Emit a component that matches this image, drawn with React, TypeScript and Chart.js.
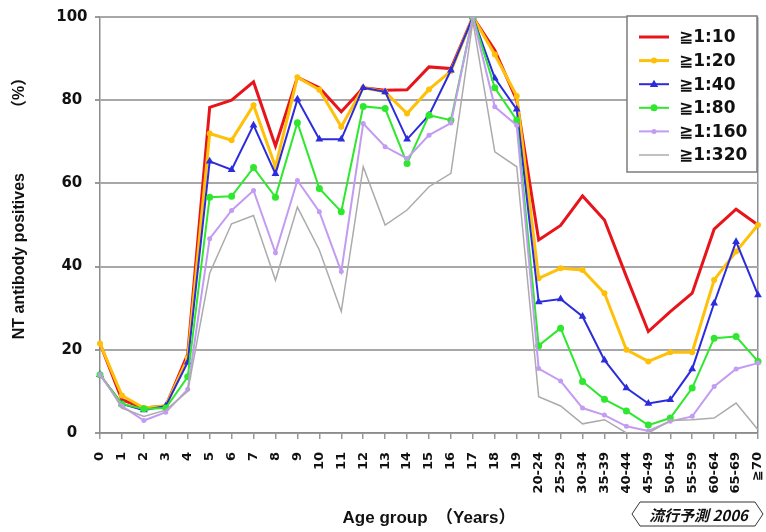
import React, { useEffect, useRef } from 'react';
import { Chart, registerables } from 'chart.js';

Chart.register(...registerables);

const ageGroups = [
  '0', '1', '2', '3', '4', '5', '6', '7', '8', '9', '10', '11', '12', '13', '14', '15', '16', '17', '18', '19',
  '20-24', '25-29', '30-34', '35-39', '40-44', '45-49', '50-54', '55-59', '60-64', '65-69', '≧70',
];

const seriesLabels = ['≧1:10', '≧1:20', '≧1:40', '≧1:80', '≧1:160', '≧1:320'];

const titer10 = [21.5, 8, 6, 6.5, 19, 78.3, 80, 84.4, 69, 85.5, 83, 77.2, 83, 82.4, 82.5, 88, 87.6, 100, 92, 80, 46.4, 49.9, 57, 51.2, 37.6, 24.4, 29.2, 33.6, 49, 53.8, 50];
const titer20 = [21.5, 9, 6, 6.5, 18, 72, 70.4, 78.8, 64, 85.5, 82.5, 73.6, 83, 82, 76.8, 82.6, 87, 100, 91, 81, 37.2, 39.6, 39.2, 33.6, 20, 17.2, 19.4, 19.4, 36.8, 43.6, 50];
const titer40 = [14, 7, 5.5, 6.5, 17, 65.3, 63.3, 74, 62.3, 80.2, 70.6, 70.6, 83, 82, 70.6, 76.4, 87.2, 100, 85.3, 77.8, 31.5, 32.2, 28, 17.5, 10.8, 7.1, 8, 15.4, 31.2, 46, 33.2];
const titer80 = [14, 7, 5.8, 6, 13.5, 56.7, 56.9, 63.8, 56.7, 74.6, 58.8, 53.2, 78.5, 78, 64.8, 76.4, 75.2, 100, 83, 75.2, 21, 25.2, 12.4, 8.1, 5.3, 1.9, 3.6, 10.8, 22.8, 23.2, 17.2];
const titer160 = [14, 6.5, 3, 5, 10.5, 46.7, 53.5, 58.3, 43.3, 60.7, 53.2, 38.8, 74.4, 68.8, 66, 71.6, 74.5, 100, 78.4, 74, 15.5, 12.5, 6, 4.3, 1.6, 0.5, 2.8, 4, 11.2, 15.4, 16.8];
const titer320 = [14.5, 6, 4, 5.5, 10, 38.4, 50.3, 52.3, 36.7, 54.3, 44, 29.2, 64, 50, 53.6, 59.2, 62.4, 99, 67.6, 64, 8.7, 6.5, 2.2, 3.2, 0, 0, 3, 3.2, 3.6, 7.2, 0.8];

const yMin = 0;
const yMax = 100;
const yStep = 20;

const xTitle = 'Age group　（Years）';
const yTitle = '　　  NT antibody positives　　　  （%）';
const stampText = '流行予測 2006';

const FONT = '"DejaVu Sans", "Noto Sans CJK JP", sans-serif';
const TITLE_FONT = '"Liberation Sans", "Noto Sans CJK JP", sans-serif';

const boxLegend = {
  id: 'boxLegend',
  afterDatasetsDraw(chart: any) {
    const { ctx, chartArea } = chart;
    const w = 130;
    const h = 156;
    const x0 = chartArea.right - w - 1;
    const y0 = chartArea.top - 1;
    ctx.save();
    ctx.fillStyle = '#ffffff';
    ctx.fillRect(x0, y0, w, h);
    ctx.strokeStyle = '#7c7c7c';
    ctx.lineWidth = 1.5;
    ctx.strokeRect(x0, y0, w, h);
    chart.data.datasets.forEach((ds: any, i: number) => {
      const cy = y0 + 21 + i * 23.6;
      ctx.strokeStyle = ds.borderColor;
      ctx.lineWidth = ds.borderWidth;
      ctx.beginPath();
      ctx.moveTo(x0 + 12, cy);
      ctx.lineTo(x0 + 42, cy);
      ctx.stroke();
      if (ds.pointRadius > 0) {
        const r = ds.pointRadius;
        const cx = x0 + 27;
        ctx.fillStyle = ds.borderColor;
        ctx.beginPath();
        if (ds.pointStyle === 'triangle') {
          ctx.moveTo(cx, cy - r);
          ctx.lineTo(cx + r * 0.95, cy + r * 0.6);
          ctx.lineTo(cx - r * 0.95, cy + r * 0.6);
          ctx.closePath();
        } else {
          ctx.arc(cx, cy, r, 0, Math.PI * 2);
        }
        ctx.fill();
      }
      ctx.fillStyle = '#111';
      ctx.font = `bold 17px ${FONT}`;
      ctx.textAlign = 'left';
      ctx.textBaseline = 'middle';
      ctx.fillText(ds.label, x0 + 52, cy + 1);
    });
    ctx.restore();
  },
  afterDraw(chart: any) {
    const { ctx } = chart;
    const W = chart.width;
    const H = chart.height;
    const left = W - 134;
    const right = W - 3;
    const top = H - 30;
    const bottom = H - 6;
    const mid = (top + bottom) / 2;
    ctx.save();
    ctx.strokeStyle = '#333';
    ctx.lineWidth = 1;
    ctx.beginPath();
    ctx.moveTo(left + 8, top);
    ctx.lineTo(right - 8, top);
    ctx.lineTo(right, mid);
    ctx.lineTo(right - 8, bottom);
    ctx.lineTo(left + 8, bottom);
    ctx.lineTo(left, mid);
    ctx.closePath();
    ctx.stroke();
    ctx.fillStyle = '#111';
    ctx.font = `italic bold 15px "Noto Sans CJK JP", ${FONT}`;
    ctx.textAlign = 'center';
    ctx.textBaseline = 'middle';
    ctx.fillText(stampText, (left + right) / 2 + 1, mid + 1);
    ctx.restore();
  },
};

export default function App() {
  const canvasRef = useRef<HTMLCanvasElement | null>(null);

  useEffect(() => {
    if (!canvasRef.current) return;
    const lastIndex = ageGroups.length - 1;
    const mk = (label: string, data: number[], color: string, width: number, style: string | false, radius: number, order: number) => ({
      label,
      data,
      borderColor: color,
      backgroundColor: color,
      borderWidth: width,
      pointStyle: style || 'circle',
      pointRadius: radius,
      pointBorderWidth: 0,
      pointBackgroundColor: color,
      tension: 0,
      fill: false,
      order,
    });
    const chart = new Chart(canvasRef.current, {
      type: 'line',
      data: {
        labels: ageGroups,
        datasets: [
          mk(seriesLabels[0], titer10, '#e8141b', 3, false, 0, 6),
          mk(seriesLabels[1], titer20, '#ffc00a', 3, 'circle', 3, 5),
          mk(seriesLabels[2], titer40, '#2c2cdc', 2, 'triangle', 4.5, 4),
          mk(seriesLabels[3], titer80, '#2ee82e', 2, 'circle', 3.5, 3),
          mk(seriesLabels[4], titer160, '#c39cf2', 2, 'circle', 2.5, 2),
          mk(seriesLabels[5], titer320, '#ababab', 1.5, false, 0, 1),
        ] as any,
      },
      options: {
        responsive: false,
        animation: false,
        events: [],
        layout: { padding: { left: 0, right: 8, top: 17, bottom: 0 } },
        plugins: {
          legend: { display: false },
          tooltip: { enabled: false },
        },
        scales: {
          x: {
            type: 'category',
            offset: false,
            afterFit: (s: any) => {
              s.height = 99;
              s.paddingLeft = 0;
              s.paddingRight = 0;
            },
            grid: {
              drawOnChartArea: true,
              drawTicks: true,
              tickLength: 6,
              lineWidth: 1.5,
              color: (c: any) => (c.index === lastIndex ? '#8c8c8c' : 'rgba(0,0,0,0)'),
              tickColor: '#9a9a9a',
            },
            border: { display: true, color: '#8c8c8c', width: 1.5 },
            ticks: {
              autoSkip: false,
              maxRotation: 90,
              minRotation: 90,
              padding: 13,
              color: '#111',
              font: { family: FONT, size: 13, weight: 'bold' },
            },
            title: {
              display: true,
              text: xTitle,
              color: '#111',
              padding: { top: 0, bottom: 3 },
              font: { family: TITLE_FONT, size: 17, weight: 'bold' },
            },
          },
          y: {
            min: yMin,
            max: yMax,
            afterFit: (s: any) => { s.width = 100; },
            grid: {
              color: '#a8a8a8',
              lineWidth: 2,
              tickLength: 5,
              tickColor: '#9a9a9a',
            },
            border: { display: true, color: '#8c8c8c', width: 1.5 },
            ticks: {
              stepSize: yStep,
              crossAlign: 'center',
              padding: 7.5,
              color: '#111',
              font: { family: FONT, size: 15, weight: 'bold' },
            },
            title: {
              display: true,
              text: yTitle,
              color: '#111',
              padding: { top: 10, bottom: 0 },
              font: { family: TITLE_FONT, size: 16, weight: 'bold' },
            },
          },
        },
      } as any,
      plugins: [boxLegend],
    });
    return () => chart.destroy();
  }, []);

  return (
    <div style={{ position: 'absolute', left: 0, top: 0, width: 766, height: 532, background: '#fff' }}>
      <canvas ref={canvasRef} width={766} height={532} style={{ display: 'block' }} />
    </div>
  );
}
